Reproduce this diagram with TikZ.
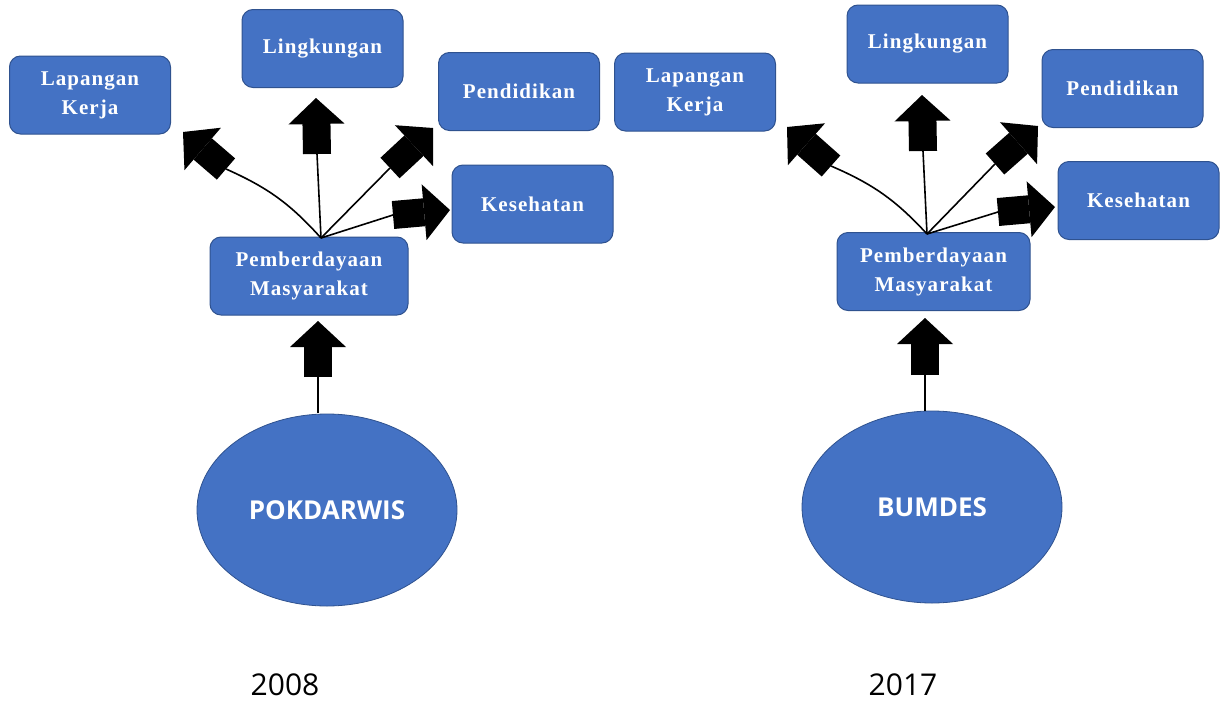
\documentclass[tikz,border=0pt]{standalone}
\usepackage{fontspec}
\usepackage{tkz-euclide}
\usetikzlibrary{arrows.meta,shapes.geometric}
\newfontfamily\boxfont[LetterSpace=5]{Liberation Serif}
\newfontfamily\ovalfont{Open Sans}
\definecolor{officeblue}{HTML}{4472C4}
\definecolor{officeedge}{HTML}{2F528F}
\tikzset{
  box/.style={draw=officeedge, line width=1pt, fill=officeblue, rounded corners=11pt,
    text=white, font=\boxfont\bfseries\fontsize{21}{29}\selectfont, align=center,
    minimum width=161pt, minimum height=78pt, inner sep=0pt},
  oval/.style={ellipse, draw=officeedge, line width=0.8pt, fill=officeblue, text=white,
    font=\ovalfont\bfseries\fontsize{26}{30}\selectfont,
    minimum width=260pt, minimum height=192pt, inner sep=0pt},
  year/.style={font=\ovalfont\fontsize{30}{34}\selectfont},
  link/.style={draw=black, line width=1.6pt},
  fat/.style={line width=28pt, -{Triangle[length=26pt,width=56pt,line width=0pt]}}
}

\begin{document}
\begin{tikzpicture}[x=1pt,y=-1pt]
  \useasboundingbox (0,0) rectangle (1228,704);

  \node[box] (lapA) at (90,95) {Lapangan\\Kerja};
  \node[box] (lingA) at (322.5,48.5) {Lingkungan};
  \node[box] (pendA) at (519,91.5) {Pendidikan};
  \node[box] (kesA) at (532.5,204) {Kesehatan};
  \node[box, minimum width=198pt] (pembA) at (309,276) {Pemberdayaan\\Masyarakat};
  \node[oval] (pokA) at (327,510) {POKDARWIS};
  \node[year] (yearA) at (285,685) {2008};

  \node[box] (lapB) at (695,92) {Lapangan\\Kerja};
  \node[box] (lingB) at (927.5,44) {Lingkungan};
  \node[box] (pendB) at (1122.5,88.5) {Pendidikan};
  \node[box] (kesB) at (1138.5,200.5) {Kesehatan};
  \node[box, minimum width=193pt] (pembB) at (933.5,271.5) {Pemberdayaan\\Masyarakat};
  \node[oval] (bumB) at (932,507) {BUMDES};
  \node[year] (yearB) at (903,685) {2017};

  \tkzDefPoint(321,238){oA}
  \tkzDefPoint(226,169){bLa}
  \tkzDefPoint(183,132){tLa}
  \tkzDefPoint(317,154){bUa}
  \tkzDefPoint(316,98){tUa}
  \tkzDefPoint(390,168){bRa}
  \tkzDefPoint(433,128){tRa}
  \tkzDefPoint(393,215){bKa}
  \tkzDefPoint(450,210){tKa}
  \tkzDefPoint(318,413){sA}
  \tkzDefPoint(318,377){bDa}
  \tkzDefPoint(318,321){tDa}

  \tkzDefPoint(927,234){oB}
  \tkzDefPoint(831,166){bLb}
  \tkzDefPoint(787,127){tLb}
  \tkzDefPoint(923,151){bUb}
  \tkzDefPoint(922,95){tUb}
  \tkzDefPoint(995,164){bRb}
  \tkzDefPoint(1038,126){tRb}
  \tkzDefPoint(998,212){bKb}
  \tkzDefPoint(1055,207){tKb}
  \tkzDefPoint(925,411){sB}
  \tkzDefPoint(925,375){bDb}
  \tkzDefPoint(925,318){tDb}

  \draw[link] (oA) to[bend right=12] (bLa);
  \draw[link] (oA) -- (bUa);
  \draw[link] (oA) -- (bRa);
  \draw[link] (oA) -- (bKa);
  \draw[link] (sA) -- (bDa);
  \draw[link] (oB) to[bend right=12] (bLb);
  \draw[link] (oB) -- (bUb);
  \draw[link] (oB) -- (bRb);
  \draw[link] (oB) -- (bKb);
  \draw[link] (sB) -- (bDb);

  \draw[fat] (bLa) -- (tLa);
  \draw[fat] (bUa) -- (tUa);
  \draw[fat] (bRa) -- (tRa);
  \draw[fat] (bKa) -- (tKa);
  \draw[fat] (bDa) -- (tDa);
  \draw[fat] (bLb) -- (tLb);
  \draw[fat] (bUb) -- (tUb);
  \draw[fat] (bRb) -- (tRb);
  \draw[fat] (bKb) -- (tKb);
  \draw[fat] (bDb) -- (tDb);
\end{tikzpicture}
\end{document}
